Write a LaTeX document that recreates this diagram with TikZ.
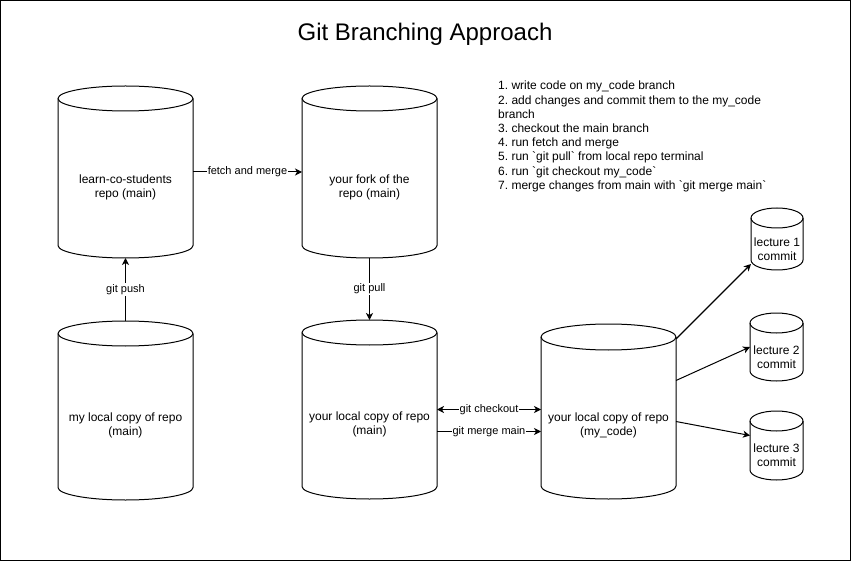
\documentclass[tikz,border=0pt]{standalone}
\usepackage{fontspec}
\setmainfont{Liberation Sans}[Ligatures=TeXOff]
\usetikzlibrary{arrows.meta}
\frenchspacing
\tikzset{
  cylline/.style={line width=1pt, draw=black, line join=round},
  cylbox/.style={shape=rectangle, draw=none, inner sep=0pt, outer sep=0pt},
  ctext/.style={align=center, font=\fontsize{12}{14}\selectfont, inner sep=0pt},
  elabel/.style={fill=white, inner sep=1pt, font=\fontsize{11}{13}\selectfont},
  arr/.style={line width=1pt, -{Stealth[length=7pt,width=7pt,inset=2pt]}},
  arrboth/.style={line width=1pt, {Stealth[length=7pt,width=7pt,inset=2pt]}-{Stealth[length=7pt,width=7pt,inset=2pt]}},
  listtext/.style={align=left, font=\fontsize{12}{14.2}\selectfont, inner sep=0pt},
  titletext/.style={font=\fontsize{24}{28}\selectfont, inner sep=0pt}
}
% name, left, top, right, bottom, ry, text shift, text
\newcommand{\drawcyl}[8]{%
  \pgfmathsetmacro\cyCx{(#2+#4)/2}%
  \pgfmathsetmacro\cyRx{(#4-#2)/2}%
  \pgfmathsetmacro\cyKx{0.5523*\cyRx}%
  \pgfmathsetmacro\cyKy{0.5523*#6}%
  \pgfmathsetmacro\cyYa{#3+#6}%
  \pgfmathsetmacro\cyYb{#5-#6}%
  \pgfmathsetmacro\cyW{#4-#2}%
  \pgfmathsetmacro\cyH{#5-#3}%
  \pgfmathsetmacro\cyTy{(#3+2*#6+#5)/2+#7}%
  \pgfmathsetmacro\cyMy{(#3+#5)/2}%
  \node[cylbox, minimum width=\cyW pt, minimum height=\cyH pt] (#1) at (\cyCx,\cyMy) {};
  \draw[cylline] (#2,\cyYa) -- (#2,\cyYb) .. controls (#2,\cyYb+\cyKy) and (\cyCx-\cyKx,#5) .. (\cyCx,#5) .. controls (\cyCx+\cyKx,#5) and (#4,\cyYb+\cyKy) .. (#4,\cyYb) -- (#4,\cyYa);
  \draw[cylline] (\cyCx,\cyYa) ellipse [x radius=\cyRx pt, y radius=#6pt];
  \node[ctext] (#1-text) at (\cyCx,\cyTy) {#8};
}
\begin{document}
\begin{tikzpicture}[x=1pt,y=-1pt]
\useasboundingbox (0,0) rectangle (851,561);
\fill[white] (0,0) rectangle (851,561);
\draw[line width=1pt] (0.5,0.5) rectangle (850.5,560.5);

\node[titletext, anchor=base] (title) at (425,41) {Git Branching Approach};

\drawcyl{repo}{58}{86}{193}{258}{12.5}{2.5}{learn-co-students\\repo (main)}
\drawcyl{fork}{302}{86}{437}{258}{12.5}{2.5}{your fork of the\\repo (main)}
\drawcyl{mylocal}{58}{321}{193}{500}{12.5}{2.5}{my local copy of repo\\(main)}
\drawcyl{yourmain}{302}{320}{437}{499}{12.5}{2.5}{your local copy of repo\\(main)}
\drawcyl{mycode}{541}{324}{676}{499}{13}{1}{your local copy of repo\\(my\_code)}
\drawcyl{lec1}{751}{208}{803}{270}{10}{0}{lecture 1\\commit}
\drawcyl{lec2}{750}{313}{803}{381}{10}{0}{lecture 2\\commit}
\drawcyl{lec3}{750}{411}{803}{480}{10}{0}{lecture 3\\commit}

\node[listtext, anchor=north west] (steps) at (498,81) {1. write code on my\_code branch\\2. add changes and commit them to the my\_code\\branch\\3. checkout the main branch\\4. run fetch and merge\\5. run `git pull` from local repo terminal\\6. run `git checkout my\_code`\\7. merge changes from main with `git merge main`};

\draw[arr] (repo.east) -- node[elabel] {fetch and merge} (fork.west);
\draw[arr] (mylocal.north) -- node[elabel] {git push} (repo.south);
\draw[arr] (fork.south) -- node[elabel] {git pull} (yourmain.north);
\draw[arrboth] (yourmain.east) -- node[elabel] {git checkout} (yourmain.east -| mycode.west);
\coordinate (mergestart) at ([yshift=-22pt]yourmain.east);
\draw[arr] (mergestart) -- node[elabel] {git merge main} (mergestart -| mycode.west);
\draw[arr, line width=1.3pt] ([yshift=-15pt]mycode.north east) -- ([yshift=6pt]lec1.south west);
\draw[arr] ([yshift=31pt]mycode.east) -- (lec2.west);
\draw[arr] ([yshift=-10pt]mycode.east) -- ([yshift=10pt]lec3.west);
\end{tikzpicture}
\end{document}
